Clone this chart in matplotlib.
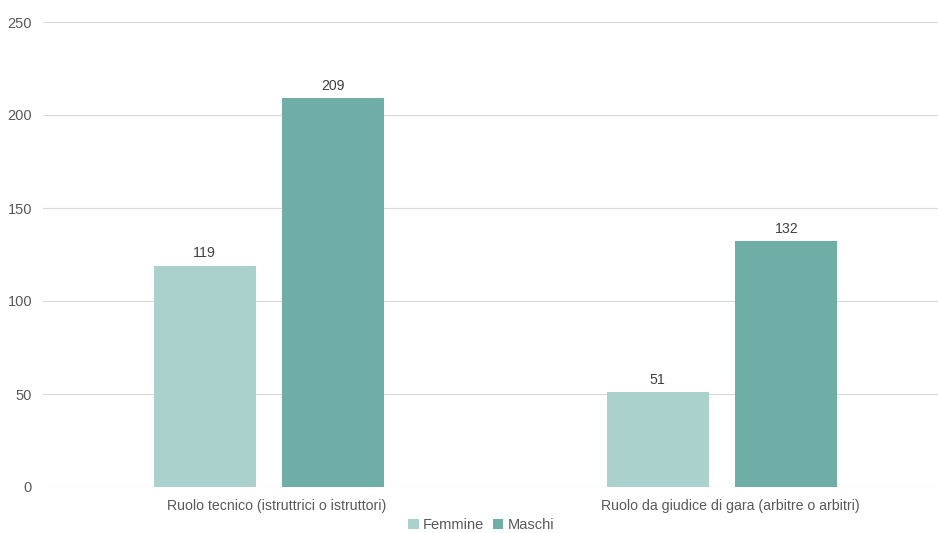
import matplotlib
matplotlib.use('Agg')
import matplotlib.pyplot as plt
import matplotlib.transforms as mtransforms
import numpy as np

plt.rcParams['font.family'] = ['Liberation Sans', 'DejaVu Sans']

categories = ['Ruolo tecnico (istruttrici o istruttori)',
              'Ruolo da giudice di gara (arbitre o arbitri)']
femmine = [119, 51]
maschi = [209, 132]
series_names = ['Femmine', 'Maschi']

_F = '#aad1cc'
_M = '#6fada7'
_TXT = '#595959'
_GRID = '#d9d9d9'

fig = plt.figure(figsize=(9.38, 5.33), dpi=100)
ax = fig.add_axes([42.5 / 938, 1 - 487 / 533, 906 / 938, 465 / 533])

x = np.arange(len(categories))
bw = 0.225
off = 0.142
b1 = ax.bar(x - off, femmine, bw, color=_F, label=series_names[0], zorder=3)
b2 = ax.bar(x + off, maschi, bw, color=_M, label=series_names[1], zorder=3)

for bars, vals in [(b1, femmine), (b2, maschi)]:
    for r, v in zip(bars, vals):
        ax.text(r.get_x() + r.get_width() / 2, v + 3, str(v),
                ha='center', va='bottom', fontsize=10.2, color='#404040')

ax.set_xlim(-0.5, 1.5)
ax.set_ylim(0, 250)
ax.set_yticks(range(0, 251, 50))
ax.grid(axis='y', color=_GRID, linewidth=0.8, zorder=0)
ax.set_axisbelow(True)
for sp in ax.spines.values():
    sp.set_visible(False)
ax.set_xticks(x)
ax.set_xticklabels(categories, fontsize=10.2, color=_TXT)
ax.tick_params(axis='both', length=0, colors=_TXT, labelsize=10.5)
ax.tick_params(axis='x', labelsize=10.2, pad=8.5)
ax.tick_params(axis='y', pad=7.5)

# category labels sit a bit right of the group centre in the original
shift = mtransforms.ScaledTranslation(0.08, 0, fig.dpi_scale_trans)
for lbl in ax.get_xticklabels():
    lbl.set_transform(lbl.get_transform() + shift)

fig.legend(loc='center', bbox_to_anchor=(0.513, 1 - 525 / 533), ncol=2,
           frameon=False, fontsize=10.5, labelcolor=_TXT,
           handlelength=0.7, handleheight=0.7, handletextpad=0.3,
           columnspacing=0.6)

fig.savefig('out.png', dpi=100, facecolor='white')
